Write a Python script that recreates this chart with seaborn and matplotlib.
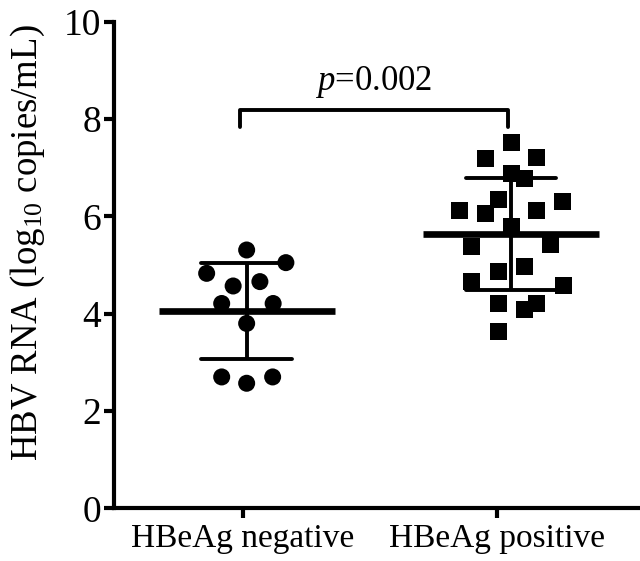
import matplotlib
matplotlib.use("Agg")
import matplotlib.pyplot as plt
import seaborn as sns
import pandas as pd
import numpy as np

groups = ["HBeAg negative", "HBeAg positive"]
centers = [0.016, 1.054]

neg_x = [0.016, -0.141, 0.170, -0.037, 0.068, -0.082, 0.120, 0.016, -0.082, 0.016, 0.118]
neg_y = [5.31, 4.83, 5.05, 4.57, 4.66, 4.21, 4.21, 3.80, 2.70, 2.57, 2.70]

pos_x = [1.054, 0.952, 1.155, 1.054, 1.106, 1.004, 1.257, 0.851, 0.952, 1.155, 1.054,
         0.899, 1.207, 1.004, 1.105, 0.899, 1.259, 1.004, 1.105, 1.155, 1.004]
pos_y = [7.53, 7.19, 7.21, 6.88, 6.78, 6.34, 6.30, 6.12, 6.06, 6.12, 5.79,
         5.38, 5.42, 4.86, 4.97, 4.66, 4.57, 4.21, 4.09, 4.21, 3.63]

p_text = "$p$=0.002"

df = pd.DataFrame({
    "x": neg_x + pos_x,
    "y": neg_y + pos_y,
    "group": [groups[0]] * len(neg_y) + [groups[1]] * len(pos_y),
})

sns.set_style("ticks", {"axes.edgecolor": "black", "text.color": "black",
                        "axes.labelcolor": "black", "xtick.color": "black",
                        "ytick.color": "black"})
plt.rcParams["font.family"] = ["Liberation Serif", "DejaVu Serif"]
plt.rcParams["mathtext.fontset"] = "custom"
plt.rcParams["mathtext.rm"] = "Liberation Serif"
plt.rcParams["mathtext.it"] = "Liberation Serif:italic"

fig = plt.figure(figsize=(6.4, 5.61), dpi=100)
ax = fig.add_axes([0.178, 0.094, 0.822, 0.867])

sns.scatterplot(data=df, x="x", y="y", style="group", markers={groups[0]: "o", groups[1]: "s"},
                color="black", s=150, linewidth=0, legend=False, ax=ax, zorder=3)

# mean and SD bars
for g, c in zip(groups, centers):
    vals = df.loc[df["group"] == g, "y"].to_numpy()
    m, sd = vals.mean(), vals.std(ddof=1)
    ax.hlines(m, c - 0.346, c + 0.346, color="black", lw=4.8, zorder=4)
    ax.vlines(c, m - sd, m + sd, color="black", lw=2.8, zorder=4)
    ax.hlines([m - sd, m + sd], c - 0.178, c + 0.178, color="black", lw=2.8,
              zorder=4, capstyle="round")

# significance bracket
ax.plot([-0.01, -0.01, 1.043, 1.043], [7.84, 8.19, 8.19, 7.84], color="black", lw=2.8)
ax.text(0.513, 8.77, p_text, ha="center", va="center", fontsize=25)

ax.set_xlim(-0.505, 1.56)
ax.set_ylim(0, 10)
ax.set_xticks([0, 1])
ax.set_xticklabels(groups, fontsize=24)
ax.set_yticks(range(0, 11, 2))
ax.tick_params(axis="y", labelsize=27, width=3, length=7, pad=2)
ax.tick_params(axis="x", width=3, length=7, pad=4)
ax.set_xlabel("")
ax.set_ylabel("HBV RNA (log$_{10}$ copies/mL)", fontsize=26.5)
ax.yaxis.set_label_coords(-0.127, 0.546)
for side in ["left", "bottom"]:
    ax.spines[side].set_linewidth(3)
sns.despine(ax=ax)
ax.spines["bottom"].set_clip_on(False)

fig.savefig("out.png", dpi=100)
